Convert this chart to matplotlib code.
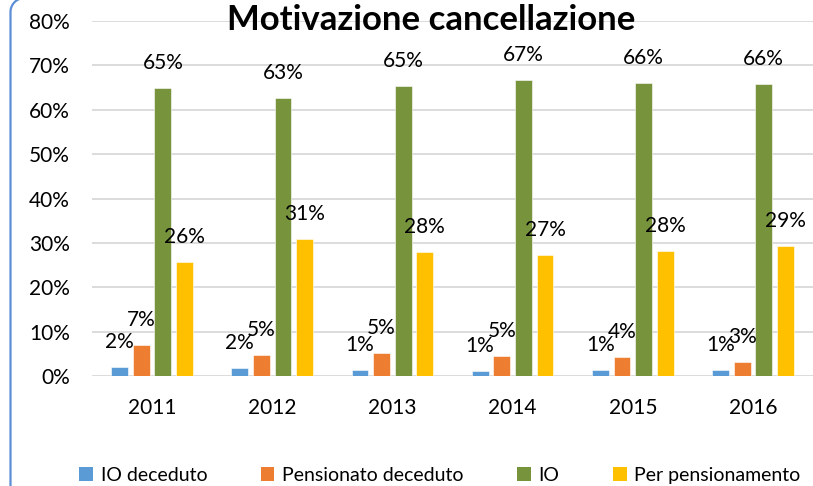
import matplotlib
matplotlib.use("Agg")
import matplotlib.pyplot as plt
import numpy as np
from matplotlib.patches import Patch
from matplotlib.lines import Line2D
from matplotlib.transforms import IdentityTransform

plt.rcParams['font.family'] = ['Lato', 'DejaVu Sans']

years = ["2011", "2012", "2013", "2014", "2015", "2016"]
series_names = ["IO deceduto", "Pensionato deceduto", "IO", "Per pensionamento"]
io_deceduto = [0.020, 0.017, 0.0135, 0.011, 0.013, 0.013]
pensionato_deceduto = [0.070, 0.047, 0.051, 0.046, 0.043, 0.032]
io = [0.648, 0.627, 0.653, 0.667, 0.661, 0.659]
per_pensionamento = [0.257, 0.308, 0.279, 0.273, 0.281, 0.293]
colors = ["#5B9BD5", "#ED7D31", "#77933C", "#FFC000"]
yticks = [0, 0.1, 0.2, 0.3, 0.4, 0.5, 0.6, 0.7, 0.8]
ytick_labels = ["0%", "10%", "20%", "30%", "40%", "50%", "60%", "70%", "80%"]

W, H = 813, 486
fig = plt.figure(figsize=(W / 100, H / 100), dpi=100)
ax = fig.add_axes([92 / W, 110 / H, 721 / W, 355 / H])

x = np.arange(len(years))
pitch = 0.18
width = 0.14
all_series = [io_deceduto, pensionato_deceduto, io, per_pensionamento]
for i, (vals, c, name) in enumerate(zip(all_series, colors, series_names)):
    pos = x + (i - 1.5) * pitch
    ax.bar(pos, vals, width=width, color=c, label=name, zorder=3,
           edgecolor="white", linewidth=0.4)
    for px, v in zip(pos, vals):
        ax.annotate(f"{round(v * 100):.0f}%", (px, v), xytext=(0, 18),
                    textcoords="offset points", ha="center", va="center",
                    fontsize=15, color="#000000", zorder=5)

ax.set_xlim(-0.5, len(years) - 0.5)
ax.set_ylim(0, 0.8)
ax.set_yticks(yticks)
ax.set_yticklabels(ytick_labels, fontsize=15)
ax.set_xticks(x)
ax.set_xticklabels(years, fontsize=15)
ax.tick_params(length=0)
ax.tick_params(axis="y", pad=16)
ax.tick_params(axis="x", pad=16)
ax.grid(axis="y", color="#D9D9D9", linewidth=1.3, zorder=0)
for s in ax.spines.values():
    s.set_visible(False)
ax.set_facecolor("none")

fig.text(431 / W, 1 - 20 / H, "Motivazione cancellazione", ha="center", va="center",
         fontsize=25, fontweight="bold", color="#000000")

handles = [Patch(facecolor=c, edgecolor="none") for c in colors]
fig.legend(handles, series_names, loc="center", bbox_to_anchor=(440 / W, 1 - 475 / H),
           ncol=4, frameon=False, fontsize=14, handlelength=0.7, handleheight=0.7,
           handletextpad=0.4, columnspacing=2.75)

# rounded chart frame (partially visible at left/top)
r = 14.0
x0 = 10.5
ytop = H + 2.0
theta = np.linspace(np.pi, np.pi / 2, 20)
xs = [x0] + list(x0 + r + r * np.cos(theta)) + [W + 50]
ys = [-10] + list(ytop - r + r * np.sin(theta)) + [ytop]
frame = Line2D(xs, ys, transform=IdentityTransform(), color="#5B8ED6", linewidth=1.6)
fig.lines.append(frame)

fig.savefig("out.png", dpi=100)
